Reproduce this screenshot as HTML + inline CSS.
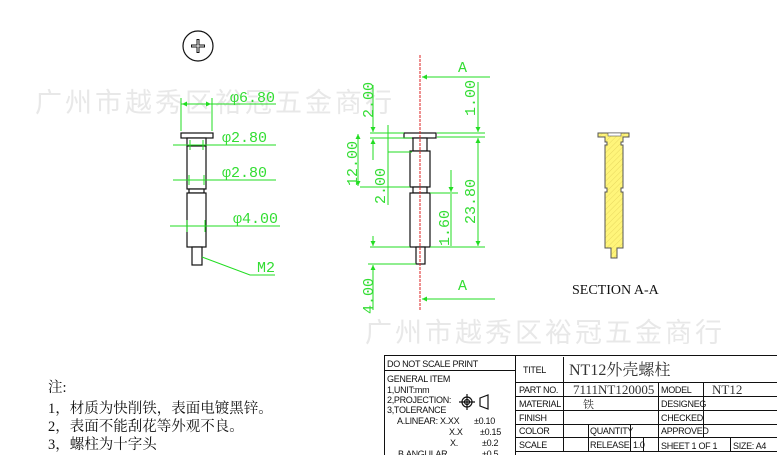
<!DOCTYPE html>
<html><head><meta charset="utf-8"><style>
html,body{margin:0;padding:0;background:#fff;width:777px;height:455px;overflow:hidden}
svg{display:block}
.g{stroke:#22dd22;stroke-width:1;fill:none}
.gt{fill:#33dd33;font-family:"Liberation Mono",monospace;font-size:15px}
.k{stroke:#111;stroke-width:1.2;fill:#fff}
.tb{font-family:"Liberation Sans","Noto Sans CJK SC",sans-serif;font-size:9px;fill:#111;letter-spacing:-0.3px}
.wm{fill:#e8e8e8;font-family:"Noto Sans CJK SC",sans-serif;font-size:27px;letter-spacing:3px}
</style></head><body>
<svg width="777" height="455" viewBox="0 0 777 455" xmlns="http://www.w3.org/2000/svg">
<defs>
<marker id="a" viewBox="0 0 10 10" refX="10" refY="5" markerWidth="7" markerHeight="5" orient="auto-start-reverse"><path d="M0,0L10,5L0,10z" fill="#22dd22"/></marker>
<pattern id="h" width="4" height="4" patternUnits="userSpaceOnUse" patternTransform="rotate(45)"><rect width="4" height="4" fill="#fff57a"/><line x1="0" y1="0" x2="0" y2="4" stroke="#e8d860" stroke-width="1"/></pattern>
</defs>
<text x="35" y="112" class="wm">广州市越秀区裕冠五金商行</text>
<text x="365" y="342" class="wm">广州市越秀区裕冠五金商行</text>

<circle cx="198" cy="46" r="15" fill="none" stroke="#111" stroke-width="1.2"/>
<path d="M191,46H205M198,39V53" stroke="#111" stroke-width="3"/>
<path d="M192,46H204M198,40V52" stroke="#fff" stroke-width="1"/>

<rect x="181" y="133" width="32" height="5" class="k"/>
<rect x="187" y="138" width="19" height="8" class="k"/>
<rect x="187" y="146" width="19" height="43" class="k"/>
<rect x="189" y="189" width="15" height="4" class="k"/>
<rect x="187" y="193" width="19" height="54" class="k"/>
<rect x="192" y="247" width="10" height="18" class="k"/>
<path class="g" d="M181,98V131M212,98V131M181,104H276M173,145H276M173,180H276M170,226H280M190,140V150M203,140V150M189,175V185M204,175V185M187,220V232M205,220V232"/>
<line x1="182" y1="104" x2="211" y2="104" class="g" marker-start="url(#a)" marker-end="url(#a)"/>
<text x="230" y="102" class="gt">φ6.80</text>
<text x="222" y="142" class="gt">φ2.80</text>
<text x="222" y="177" class="gt">φ2.80</text>
<text x="233" y="223" class="gt">φ4.00</text>
<path class="g" d="M202,257L250,275H275"/>
<text x="257" y="272" class="gt">M2</text>

<rect x="404" y="133" width="32" height="5" class="k" fill="none"/>
<rect x="413" y="138" width="14" height="13" class="k" fill="none"/>
<rect x="410" y="151" width="20" height="36" class="k" fill="none"/>
<rect x="413" y="187" width="14" height="6" class="k" fill="none"/>
<rect x="410" y="193" width="20" height="54" class="k" fill="none"/>
<rect x="416" y="247" width="9" height="17" class="k" fill="none"/>
<line x1="420" y1="55" x2="420" y2="310" stroke="#dd2222" stroke-width="1" stroke-dasharray="3,1"/>
<line x1="490" y1="77" x2="422" y2="77" class="g" marker-end="url(#a)"/>
<text x="458" y="72" class="gt">A</text>
<line x1="495" y1="299" x2="422" y2="299" class="g" marker-end="url(#a)"/>
<text x="458" y="290" class="gt">A</text>
<path class="g" d="M437,133H485M437,137H485M430,247H485M430,193H458M370,133H404M370,138H412M360,187H410M370,247H410M368,264H416M388,152H412"/>
<line x1="478" y1="82" x2="478" y2="132" class="g" marker-end="url(#a)"/>
<line x1="478" y1="138" x2="478" y2="246" class="g" marker-start="url(#a)" marker-end="url(#a)"/>
<line x1="373" y1="85" x2="373" y2="132" class="g" marker-end="url(#a)"/>
<line x1="373" y1="139" x2="373" y2="160" class="g" marker-start="url(#a)"/>
<line x1="358" y1="134" x2="358" y2="186" class="g" marker-start="url(#a)" marker-end="url(#a)"/>
<line x1="388" y1="125" x2="388" y2="205" class="g"/>
<line x1="451" y1="170" x2="451" y2="192" class="g" marker-end="url(#a)"/>
<line x1="451" y1="194" x2="451" y2="246" class="g"/>
<line x1="373" y1="236" x2="373" y2="246" class="g" marker-end="url(#a)"/>
<line x1="373" y1="310" x2="373" y2="265" class="g" marker-end="url(#a)"/>
<text transform="translate(475,116) rotate(-90)" class="gt">1.00</text>
<text transform="translate(475,224) rotate(-90)" class="gt">23.80</text>
<text transform="translate(373,118) rotate(-90)" class="gt">2.00</text>
<text transform="translate(357,186) rotate(-90)" class="gt">12.00</text>
<text transform="translate(385,204) rotate(-90)" class="gt">2.00</text>
<text transform="translate(449,246) rotate(-90)" class="gt">1.60</text>
<text transform="translate(373,314) rotate(-90)" class="gt">4.00</text>

<path d="M598,133H629V137H623V142H621V145H623V188H621V192H623V248H617V258H611V248H605V192H607V188H605V145H607V142H605V137H598Z" fill="url(#h)" stroke="#555" stroke-width="1"/>
<rect x="608" y="133" width="13" height="3" fill="#fff" stroke="#555" stroke-width=".6"/>
<text x="572" y="294" font-family="Liberation Serif,serif" font-size="14" fill="#111">SECTION A-A</text>

<g font-family="Liberation Serif,'Noto Serif CJK SC',serif" font-size="14.5" fill="#111">
<text x="48" y="392">注:</text>
<text x="48" y="413">1，材质为快削铁，表面电镀黑锌。</text>
<text x="48" y="431">2，表面不能刮花等外观不良。</text>
<text x="48" y="449">3，螺柱为十字头</text>
</g>

<g stroke="#111" stroke-width="1" fill="none">
<rect x="384.5" y="355.5" width="400" height="110"/>
<path d="M384,370.5H515M515.5,355V455M515,382.5H777M515,396.5H777M515,410.5H777M515,424.5H777M515,437.5H777M515,451.5H777M563.5,357V451M658.5,383V451M703.5,383V437M588.5,424V451M630.5,424V451M643.5,437V451M730.5,437V451"/>
</g>
<g class="tb">
<text x="387" y="367">DO NOT SCALE PRINT</text>
<text x="387" y="382">GENERAL ITEM</text>
<text x="387" y="393">1,UNIT:mm</text>
<text x="387" y="403">2,PROJECTION:</text>
<text x="387" y="413">3,TOLERANCE</text>
<text x="397" y="424">A.LINEAR: X.XX</text>
<text x="474" y="424">±0.10</text>
<text x="449" y="435">X.X</text>
<text x="480" y="435">±0.15</text>
<text x="450" y="446">X.</text>
<text x="482" y="446">±0.2</text>
<text x="398" y="457">B.ANGULAR</text>
<text x="482" y="457">±0.5</text>
<text x="523" y="373">TITEL</text>
<text x="519" y="393">PART NO.</text>
<text x="519" y="407">MATERIAL</text>
<text x="519" y="421">FINISH</text>
<text x="519" y="434">COLOR</text>
<text x="519" y="448">SCALE</text>
<text x="590" y="434">QUANTITY</text>
<text x="590" y="448">RELEASE</text>
<text x="633" y="448">1.0</text>
<text x="661" y="393">MODEL</text>
<text x="661" y="407">DESIGNEG</text>
<text x="661" y="421">CHECKED</text>
<text x="661" y="434">APPROVED</text>
<text x="661" y="449">SHEET 1  OF 1</text>
<text x="733" y="449">SIZE: A4</text>
</g>
<g font-family="Liberation Serif,'Noto Serif CJK SC',serif" fill="#333">
<text x="569" y="375" font-size="16">NT12外壳螺柱</text>
<text x="573" y="394" font-size="13">7111NT120005</text>
<text x="712" y="394" font-size="13">NT12</text>
<text x="583" y="408" font-size="11">铁</text>
</g>
<g stroke="#111" stroke-width="1.2" fill="none">
<circle cx="467" cy="402" r="5"/><circle cx="467" cy="402" r="2.5"/>
<path d="M459,402H475M467,394V410M480,398L488,395V409L480,406Z"/>
</g>
</svg>
</body></html>
